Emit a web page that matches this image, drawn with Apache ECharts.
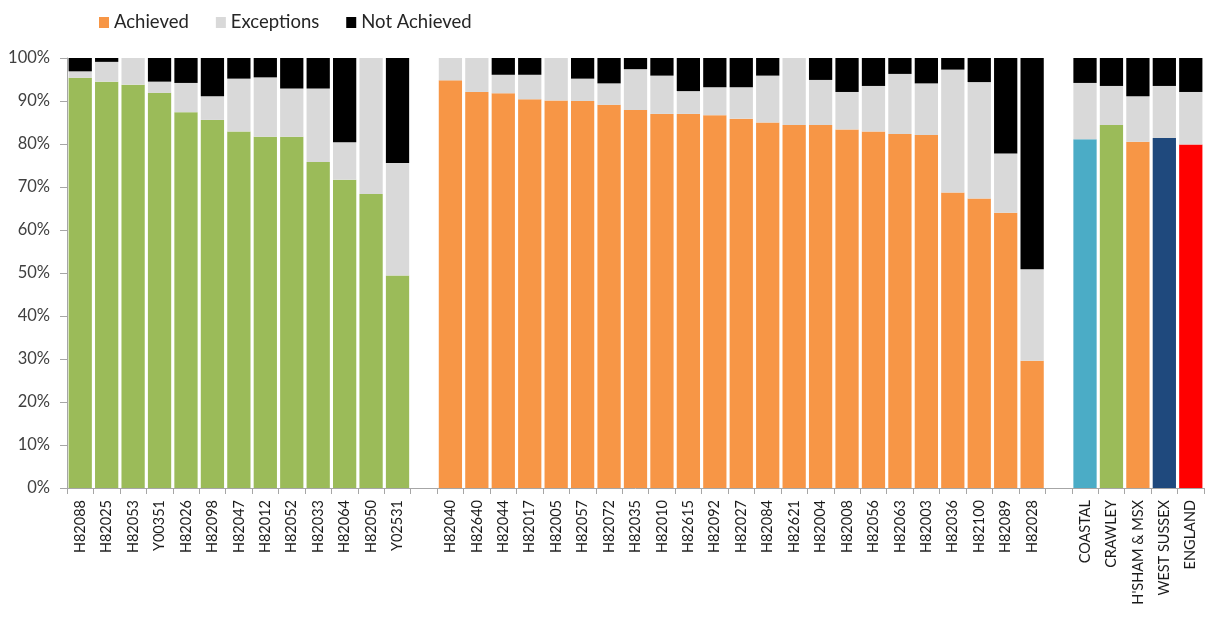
<!DOCTYPE html>
<html>
<head>
<meta charset="utf-8">
<title>Achievement by practice</title>
<script src="https://cdn.jsdelivr.net/npm/echarts@6/dist/echarts.min.js"></script>
<style>
  html, body { margin: 0; padding: 0; background: #ffffff; }
  #chart { width: 1219px; height: 619px; }
</style>
</head>
<body>
<div id="chart"></div>
<script>
// Practice codes (two groups) and area totals; blank slots separate the groups
const groupA = ['H82088','H82025','H82053','Y00351','H82026','H82098','H82047','H82012','H82052','H82033','H82064','H82050','Y02531'];
const groupB = ['H82040','H82640','H82044','H82017','H82005','H82057','H82072','H82035','H82010','H82615','H82092','H82027','H82084','H82621','H82004','H82008','H82056','H82063','H82003','H82036','H82100','H82089','H82028'];
const areas = ['COASTAL','CRAWLEY',"H'SHAM & MSX",'WEST SUSSEX','ENGLAND'];

// Percentages for group A
const achievedA   = [95.4, 94.5, 93.8, 91.9, 87.4, 85.6, 82.9, 81.7, 81.7, 75.8, 71.7, 68.4, 49.4];
const exceptionsA = [ 1.5,  4.6,  6.2,  2.6,  6.8,  5.5, 12.3, 13.8, 11.2, 17.1,  8.7, 31.6, 26.2];
const notAchA     = [ 3.1,  0.9,  0.0,  5.5,  5.8,  8.9,  4.8,  4.5,  7.1,  7.1, 19.6,  0.0, 24.4];

// Percentages for group B
const achievedB   = [94.8, 92.1, 91.8, 90.4, 90.1, 90.0, 89.1, 87.9, 87.0, 87.0, 86.7, 85.9, 85.0, 84.4, 84.4, 83.4, 82.9, 82.3, 82.1, 68.7, 67.3, 64.0, 29.6];
const exceptionsB = [ 5.2,  7.9,  4.3,  5.7,  9.9,  5.2,  5.0,  9.5,  8.9,  5.3,  6.5,  7.3, 10.9, 15.6, 10.5,  8.7, 10.6, 14.0, 12.0, 28.6, 27.1, 13.8, 21.3];
const notAchB     = [ 0.0,  0.0,  3.9,  3.9,  0.0,  4.8,  5.9,  2.6,  4.1,  7.7,  6.8,  6.8,  4.1,  0.0,  5.1,  7.9,  6.5,  3.7,  5.9,  2.7,  5.6, 22.2, 49.1];

// Percentages for area totals
const achievedC   = [81.1, 84.4, 80.5, 81.4, 79.9];
const exceptionsC = [13.1,  9.1, 10.6, 12.1, 12.2];
const notAchC     = [ 5.8,  6.5,  8.9,  6.5,  7.9];

// Bar colours for the "Achieved" segment by group
const GREEN = '#9BBB59', ORANGE = '#F79646', GREY = '#D9D9D9', BLACK = '#000000';
const areaColors = ['#4BACC6', '#9BBB59', '#F79646', '#1F497D', '#FF0000'];

const categories = [...groupA, ' ', ...groupB, '  ', ...areas];

function withColor(values, color) {
  return values.map(v => ({ value: v, itemStyle: { color: color } }));
}
const achievedData = [
  ...withColor(achievedA, GREEN), '-',
  ...withColor(achievedB, ORANGE), '-',
  ...achievedC.map((v, i) => ({ value: v, itemStyle: { color: areaColors[i] } }))
];
const exceptionsData = [...exceptionsA, '-', ...exceptionsB, '-', ...exceptionsC];
const notAchData = [...notAchA, '-', ...notAchB, '-', ...notAchC];

const chart = echarts.init(document.getElementById('chart'), null, { renderer: 'canvas' });
const fontFam = 'Lato, "Open Sans", sans-serif';

chart.setOption({
  animation: false,
  backgroundColor: '#ffffff',
  legend: {
    top: 8,
    left: 94,
    itemWidth: 10,
    itemHeight: 11,
    itemGap: 27,
    icon: 'rect',
    textStyle: { fontFamily: fontFam, fontSize: 18.5, color: '#262626' },
    data: ['Achieved', 'Exceptions', 'Not Achieved']
  },
  grid: { left: 67, right: 15, top: 58, bottom: 131, containLabel: false },
  xAxis: {
    type: 'category',
    data: categories,
    axisLine: { lineStyle: { color: '#A6A6A6', width: 1 } },
    axisTick: { show: true, length: 6, lineStyle: { color: '#A6A6A6' }, interval: 0 },
    axisLabel: {
      interval: 0,
      rotate: 90,
      margin: 12,
      fontFamily: fontFam,
      fontSize: 14.5,
      color: '#1a1a1a'
    },
    splitLine: { show: false }
  },
  yAxis: {
    type: 'value',
    min: 0,
    max: 100,
    interval: 10,
    axisLine: { show: true, lineStyle: { color: '#A6A6A6' } },
    axisTick: { show: true, length: 7, lineStyle: { color: '#A6A6A6' } },
    axisLabel: {
      formatter: '{value}%',
      margin: 17,
      fontFamily: fontFam,
      fontSize: 16.5,
      color: '#404040'
    },
    splitLine: { show: false }
  },
  series: [
    {
      name: 'Achieved', type: 'bar', stack: 'total',
      barCategoryGap: '12%',
      itemStyle: { color: ORANGE },
      data: achievedData
    },
    {
      name: 'Exceptions', type: 'bar', stack: 'total',
      barCategoryGap: '12%',
      itemStyle: { color: GREY },
      data: exceptionsData
    },
    {
      name: 'Not Achieved', type: 'bar', stack: 'total',
      barCategoryGap: '12%',
      itemStyle: { color: BLACK },
      data: notAchData
    }
  ]
});
</script>
</body>
</html>
